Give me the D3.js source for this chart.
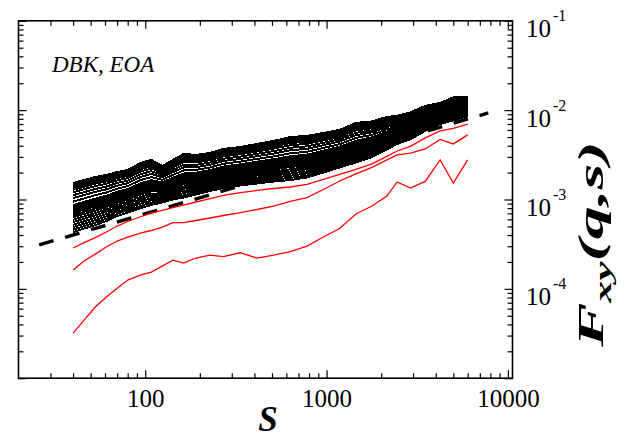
<!DOCTYPE html>
<html>
<head>
<meta charset="utf-8">
<script src="https://cdn.jsdelivr.net/npm/d3@7"></script>
<style>
  body { margin: 0; background: #fff; }
  svg { display: block; }
  text { font-family: "Liberation Serif", "Times New Roman", Times, serif; }
</style>
</head>
<body>
<div id="wrapper"></div>
<script>
// 1. Data (log10 of F_xy for the curves)
const sValues = [40, 46, 53, 61, 70, 80, 94, 108, 124, 142, 163, 190, 228, 270, 334, 413, 510, 631, 780, 960, 1180, 1450, 1780, 2150, 2450, 2900, 3500, 4230, 5000, 6000]

// black curves, top (largest q) to bottom
const blackLogF = [
  [-2.815, -2.782, -2.748, -2.726, -2.692, -2.670, -2.591, -2.557, -2.625, -2.557, -2.490, -2.501, -2.479, -2.434, -2.412, -2.378, -2.345, -2.300, -2.289, -2.255, -2.221, -2.143, -2.126, -2.076, -2.064, -2.025, -1.952, -1.919, -1.857, -1.857],
  [-2.831, -2.798, -2.764, -2.741, -2.707, -2.684, -2.606, -2.572, -2.637, -2.570, -2.505, -2.514, -2.492, -2.447, -2.425, -2.391, -2.359, -2.314, -2.303, -2.268, -2.234, -2.156, -2.138, -2.087, -2.073, -2.034, -1.960, -1.926, -1.865, -1.863],
  [-2.848, -2.815, -2.780, -2.757, -2.722, -2.699, -2.621, -2.587, -2.650, -2.584, -2.519, -2.528, -2.505, -2.460, -2.438, -2.405, -2.372, -2.329, -2.317, -2.282, -2.246, -2.170, -2.150, -2.098, -2.083, -2.043, -1.969, -1.933, -1.872, -1.870],
  [-2.870, -2.836, -2.802, -2.778, -2.741, -2.718, -2.642, -2.607, -2.666, -2.601, -2.539, -2.545, -2.522, -2.478, -2.455, -2.422, -2.390, -2.348, -2.336, -2.299, -2.263, -2.187, -2.166, -2.112, -2.095, -2.055, -1.980, -1.943, -1.883, -1.878],
  [-2.892, -2.858, -2.823, -2.798, -2.761, -2.737, -2.662, -2.628, -2.682, -2.619, -2.558, -2.563, -2.539, -2.495, -2.472, -2.440, -2.409, -2.367, -2.354, -2.317, -2.280, -2.205, -2.182, -2.127, -2.108, -2.067, -1.991, -1.952, -1.893, -1.887],
  [-2.919, -2.885, -2.850, -2.824, -2.786, -2.760, -2.687, -2.653, -2.703, -2.641, -2.583, -2.585, -2.560, -2.517, -2.494, -2.462, -2.431, -2.392, -2.377, -2.339, -2.301, -2.227, -2.202, -2.145, -2.124, -2.083, -2.005, -1.964, -1.906, -1.897],
  [-2.952, -2.918, -2.883, -2.855, -2.815, -2.789, -2.718, -2.683, -2.727, -2.668, -2.612, -2.612, -2.586, -2.543, -2.520, -2.489, -2.459, -2.421, -2.405, -2.366, -2.326, -2.254, -2.226, -2.167, -2.143, -2.101, -2.022, -1.978, -1.922, -1.910],
  [-2.985, -2.950, -2.915, -2.886, -2.845, -2.818, -2.748, -2.713, -2.752, -2.694, -2.641, -2.638, -2.611, -2.569, -2.546, -2.515, -2.486, -2.449, -2.433, -2.392, -2.351, -2.280, -2.249, -2.189, -2.161, -2.119, -2.039, -1.992, -1.937, -1.922],
  [-3.024, -2.988, -2.952, -2.922, -2.879, -2.851, -2.783, -2.749, -2.780, -2.725, -2.675, -2.669, -2.641, -2.600, -2.576, -2.546, -2.518, -2.483, -2.466, -2.423, -2.381, -2.311, -2.277, -2.214, -2.183, -2.140, -2.058, -2.008, -1.955, -1.937],
  [-3.062, -3.026, -2.990, -2.958, -2.914, -2.884, -2.819, -2.784, -2.809, -2.756, -2.709, -2.700, -2.671, -2.631, -2.606, -2.577, -2.549, -2.517, -2.498, -2.454, -2.410, -2.342, -2.305, -2.240, -2.205, -2.161, -2.078, -2.025, -1.973, -1.952],
  [-3.084, -3.048, -3.012, -2.979, -2.934, -2.903, -2.839, -2.804, -2.826, -2.774, -2.729, -2.718, -2.688, -2.649, -2.623, -2.595, -2.568, -2.536, -2.517, -2.472, -2.427, -2.360, -2.321, -2.255, -2.218, -2.174, -2.089, -2.035, -1.984, -1.961],
  [-3.106, -3.070, -3.033, -2.999, -2.953, -2.922, -2.859, -2.824, -2.842, -2.792, -2.748, -2.736, -2.705, -2.666, -2.640, -2.613, -2.586, -2.555, -2.535, -2.490, -2.444, -2.378, -2.337, -2.269, -2.230, -2.186, -2.100, -2.044, -1.994, -1.969],
  [-3.128, -3.092, -3.055, -3.020, -2.973, -2.941, -2.880, -2.844, -2.858, -2.810, -2.768, -2.754, -2.722, -2.684, -2.658, -2.631, -2.604, -2.575, -2.554, -2.508, -2.461, -2.396, -2.353, -2.284, -2.243, -2.198, -2.112, -2.053, -2.004, -1.978],
  [-3.150, -3.113, -3.076, -3.040, -2.993, -2.960, -2.900, -2.864, -2.874, -2.827, -2.787, -2.771, -2.739, -2.701, -2.675, -2.648, -2.622, -2.594, -2.573, -2.525, -2.477, -2.413, -2.369, -2.298, -2.256, -2.210, -2.123, -2.062, -2.014, -1.986],
  [-3.175, -3.138, -3.101, -3.064, -3.015, -2.982, -2.923, -2.887, -2.893, -2.847, -2.809, -2.791, -2.758, -2.721, -2.695, -2.668, -2.643, -2.616, -2.594, -2.545, -2.496, -2.433, -2.387, -2.315, -2.270, -2.224, -2.136, -2.073, -2.026, -1.996],
  [-3.199, -3.162, -3.125, -3.087, -3.037, -3.003, -2.945, -2.910, -2.911, -2.867, -2.831, -2.811, -2.777, -2.740, -2.714, -2.688, -2.663, -2.637, -2.615, -2.565, -2.515, -2.453, -2.405, -2.331, -2.284, -2.237, -2.148, -2.084, -2.038, -2.005],
  [-3.227, -3.189, -3.152, -3.113, -3.062, -3.027, -2.971, -2.935, -2.932, -2.889, -2.856, -2.833, -2.799, -2.762, -2.736, -2.710, -2.686, -2.662, -2.638, -2.587, -2.536, -2.475, -2.425, -2.349, -2.300, -2.252, -2.162, -2.096, -2.051, -2.016],
  [-3.254, -3.216, -3.178, -3.138, -3.086, -3.051, -2.996, -2.960, -2.952, -2.911, -2.880, -2.855, -2.820, -2.784, -2.757, -2.732, -2.708, -2.686, -2.661, -2.609, -2.557, -2.497, -2.444, -2.367, -2.315, -2.267, -2.176, -2.107, -2.063, -2.026],
  [-3.282, -3.244, -3.205, -3.164, -3.111, -3.075, -3.021, -2.986, -2.973, -2.934, -2.904, -2.878, -2.841, -2.806, -2.779, -2.755, -2.731, -2.710, -2.685, -2.632, -2.578, -2.520, -2.464, -2.386, -2.331, -2.283, -2.190, -2.119, -2.076, -2.037],
  [-3.309, -3.271, -3.232, -3.190, -3.136, -3.098, -3.046, -3.011, -2.993, -2.956, -2.928, -2.900, -2.862, -2.827, -2.800, -2.777, -2.754, -2.734, -2.708, -2.654, -2.599, -2.542, -2.484, -2.404, -2.347, -2.298, -2.204, -2.131, -2.089, -2.047],
  [-3.337, -3.298, -3.259, -3.216, -3.161, -3.122, -3.072, -3.036, -3.014, -2.978, -2.953, -2.922, -2.884, -2.849, -2.822, -2.799, -2.777, -2.758, -2.731, -2.676, -2.620, -2.564, -2.504, -2.422, -2.363, -2.313, -2.218, -2.143, -2.102, -2.058],
  [-3.364, -3.325, -3.286, -3.241, -3.185, -3.146, -3.097, -3.061, -3.034, -3.000, -2.977, -2.944, -2.905, -2.871, -2.843, -2.821, -2.799, -2.782, -2.754, -2.698, -2.641, -2.586, -2.524, -2.440, -2.378, -2.328, -2.232, -2.154, -2.115, -2.068],
]

// red curves, top to bottom
const redLogF = [
  [-3.543, -3.482, -3.426, -3.364, -3.297, -3.246, -3.193, -3.151, -3.123, -3.090, -3.062, -3.028, -2.989, -2.955, -2.922, -2.899, -2.877, -2.860, -2.832, -2.776, -2.720, -2.664, -2.602, -2.518, -2.457, -2.406, -2.311, -2.232, -2.204, -2.157],
  [-3.790, -3.689, -3.611, -3.532, -3.465, -3.420, -3.375, -3.347, -3.308, -3.258, -3.258, -3.235, -3.207, -3.179, -3.146, -3.112, -3.073, -3.022, -2.978, -2.888, -2.793, -2.714, -2.641, -2.557, -2.501, -2.482, -2.434, -2.328, -2.378, -2.277],
  [-4.496, -4.350, -4.204, -4.092, -3.992, -3.902, -3.846, -3.812, -3.745, -3.678, -3.711, -3.655, -3.622, -3.639, -3.596, -3.655, -3.622, -3.583, -3.521, -3.420, -3.325, -3.162, -3.073, -2.961, -2.804, -2.871, -2.798, -2.557, -2.815, -2.557],
]

// dashed reference line (power law), end points
const dashS = [26, 7800]
const dashF = [3.1e-4, 9.3e-3]

const xTickValues = [100, 1000, 10000]
const yTickValues = [1e-1, 1e-2, 1e-3, 1e-4]
const yTickExponents = ['-1', '-2', '-3', '-4']

// 2. Dimensions
const width = 643
const height = 439
const plot = { left: 18.5, right: 512.5, top: 20.8, bottom: 378.2 }
const serif = '"Liberation Serif", "Times New Roman", Times, serif'

// 3. Canvas
const svg = d3.select('#wrapper')
  .append('svg')
  .attr('width', width)
  .attr('height', height)

// 4. Scales
const xScale = d3.scaleLog().domain([20, 10600]).range([plot.left, plot.right])
const yScale = d3.scaleLog().domain([1e-5, 1e-1]).range([plot.bottom, plot.top])

const isDecade = v => Math.abs(Math.log10(v) - Math.round(Math.log10(v))) < 1e-6
const xMinor = xScale.ticks().filter(v => !isDecade(v) && v > 20)
const yMinor = yScale.ticks().filter(v => !isDecade(v))
const yMajor = yScale.ticks().filter(isDecade)

// 5. Data
const lineGenerator = d3.line()
  .x((d, i) => xScale(sValues[i]))
  .y(d => yScale(10 ** d))

// dashed power-law guide goes underneath the curves
const dashData = dashS.map((s, i) => ({ s, f: dashF[i] }))
svg.append('path')
  .attr('d', d3.line().x(d => xScale(d.s)).y(d => yScale(d.f))(dashData))
  .attr('fill', 'none')
  .attr('stroke', '#000')
  .attr('stroke-width', 3.4)
  .attr('stroke-dasharray', '15,12')

svg.append('g')
  .selectAll('path')
  .data(blackLogF)
  .join('path')
  .attr('d', lineGenerator)
  .attr('fill', 'none')
  .attr('stroke', '#000')
  .attr('stroke-width', 2)
  .attr('shape-rendering', 'crispEdges')

svg.append('g')
  .selectAll('path')
  .data(redLogF)
  .join('path')
  .attr('d', lineGenerator)
  .attr('fill', 'none')
  .attr('stroke', '#ff0000')
  .attr('stroke-width', 1.3)

// 6. Peripherals: inward ticks on all four sides
function styleAxis(g) {
  g.select('.domain').remove()
  g.selectAll('line').attr('stroke', '#000').attr('stroke-width', 1.2)
}

svg.append('g')
  .attr('transform', `translate(0,${plot.bottom})`)
  .call(d3.axisBottom(xScale).tickValues(xMinor).tickSize(-5).tickFormat(''))
  .call(styleAxis)

const xAxis = svg.append('g')
  .attr('transform', `translate(0,${plot.bottom})`)
  .call(d3.axisBottom(xScale).tickValues(xTickValues).tickSize(-8).tickPadding(11).tickFormat(d3.format('d')))
  .call(styleAxis)
xAxis.selectAll('text')
  .attr('fill', '#000')
  .style('font-family', serif)
  .style('font-size', '25px')

svg.append('g')
  .attr('transform', `translate(0,${plot.top})`)
  .call(d3.axisTop(xScale).tickValues(xMinor).tickSize(-5).tickFormat(''))
  .call(styleAxis)
svg.append('g')
  .attr('transform', `translate(0,${plot.top})`)
  .call(d3.axisTop(xScale).tickValues(xTickValues).tickSize(-8).tickFormat(''))
  .call(styleAxis)

svg.append('g')
  .attr('transform', `translate(${plot.left},0)`)
  .call(d3.axisLeft(yScale).tickValues(yMinor).tickSize(-5).tickFormat(''))
  .call(styleAxis)
svg.append('g')
  .attr('transform', `translate(${plot.left},0)`)
  .call(d3.axisLeft(yScale).tickValues(yMajor).tickSize(-8).tickFormat(''))
  .call(styleAxis)

svg.append('g')
  .attr('transform', `translate(${plot.right},0)`)
  .call(d3.axisRight(yScale).tickValues(yMinor).tickSize(-5).tickFormat(''))
  .call(styleAxis)
svg.append('g')
  .attr('transform', `translate(${plot.right},0)`)
  .call(d3.axisRight(yScale).tickValues(yMajor).tickSize(-8).tickFormat(''))
  .call(styleAxis)

// frame
svg.append('rect')
  .attr('x', plot.left)
  .attr('y', plot.top)
  .attr('width', plot.right - plot.left)
  .attr('height', plot.bottom - plot.top)
  .attr('fill', 'none')
  .attr('stroke', '#000')
  .attr('stroke-width', 1.6)

// y tick labels 10^-n on the right
const yLabels = svg.append('g')
  .selectAll('g')
  .data(yTickValues)
  .join('g')
yLabels.append('text')
  .attr('x', 526)
  .attr('y', d => yScale(d) + 16.5)
  .style('font-family', serif)
  .style('font-size', '25px')
  .text('10')
yLabels.append('text')
  .attr('x', 553)
  .attr('y', d => yScale(d) + 0.5)
  .style('font-family', serif)
  .style('font-size', '16px')
  .text((d, i) => yTickExponents[i])

// axis titles
svg.append('text')
  .attr('x', 268)
  .attr('y', 431)
  .attr('text-anchor', 'middle')
  .style('font-family', serif)
  .style('font-size', '35px')
  .style('font-style', 'italic')
  .style('font-weight', 'bold')
  .text('S')

const yTitle = svg.append('text')
  .attr('transform', 'translate(603,347) rotate(-90) scale(1.9,1)')
  .style('font-family', serif)
  .style('font-size', '35px')
  .style('font-style', 'italic')
  .style('font-weight', 'bold')
yTitle.append('tspan').text('F')
yTitle.append('tspan').attr('dy', 8).style('font-size', '23px').text('xy')
yTitle.append('tspan').attr('dy', -8).text('(q,s)')

// panel label
svg.append('text')
  .attr('x', 52)
  .attr('y', 72)
  .style('font-family', serif)
  .style('font-size', '23px')
  .style('font-style', 'italic')
  .text('DBK, EOA')
</script>
</body>
</html>
